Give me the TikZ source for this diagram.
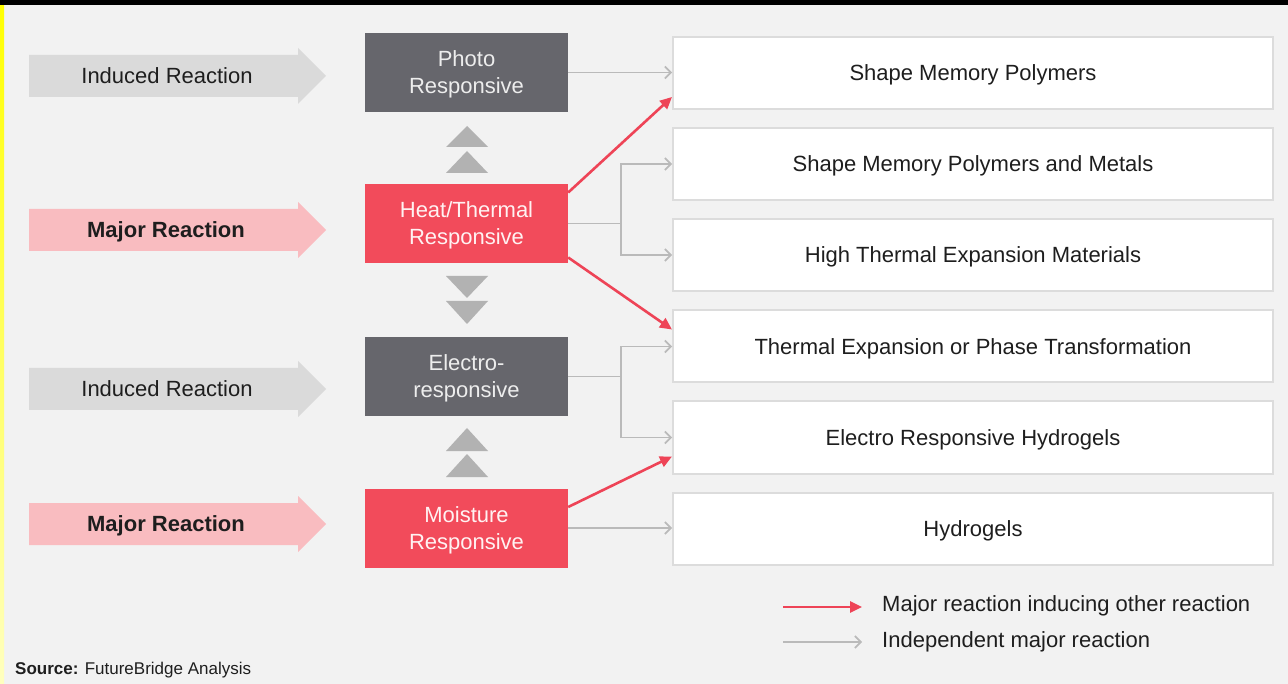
\documentclass[tikz,border=0pt]{standalone}
\usepackage{fontspec}
\setmainfont{Liberation Sans}
\usetikzlibrary{arrows.meta,calc}
\definecolor{bg}{HTML}{F2F2F2}
\definecolor{darkbox}{HTML}{66666C}
\definecolor{redbox}{HTML}{F24B5B}
\definecolor{pinkarrow}{HTML}{F9BCC0}
\definecolor{grayarrow}{HTML}{DADADA}
\definecolor{tri}{HTML}{B2B2B2}
\definecolor{conn}{HTML}{BABABA}
\definecolor{redline}{HTML}{EE4457}
\definecolor{boxline}{HTML}{DCDCDC}
\definecolor{txt}{HTML}{1E1E1E}
\begin{document}
\begin{tikzpicture}[x=1pt,y=-1pt,
  midbox/.style={minimum width=203pt,minimum height=79pt,inner sep=0pt,align=center,text depth=0pt,font=\fontsize{22}{27}\selectfont},
  darkmid/.style={midbox,fill=darkbox,text=white!93!black},
  redmid/.style={midbox,fill=redbox,text=white!95!red},
  rbox/.style={draw=boxline,line width=2pt,fill=white,minimum width=600pt,minimum height=72pt,inner sep=0pt,text depth=0pt,text=txt,font=\fontsize{22}{27}\selectfont},
  lefttext/.style={inner sep=0pt,text depth=0pt,text=txt,font=\fontsize{22}{27}\selectfont},
  legtext/.style={inner sep=0pt,text depth=0pt,anchor=west,text=txt,font=\fontsize{22}{27}\selectfont},
  grayconn/.style={draw=conn,line width=1.6pt,-{Straight Barb[length=6pt,width=12pt]}},
  grayline/.style={draw=conn,line width=1.6pt},
  redconn/.style={draw=redline,line width=2.6pt,-{Triangle[length=12pt,width=11pt]}}
]
\useasboundingbox (0,0) rectangle (1288,684);
\fill[bg] (0,0) rectangle (1288,684);
\shade[top color=yellow, bottom color=yellow!25!white] (0,0) rectangle (4,684);
\fill[black] (0,0) rectangle (1288,5);

% left arrows
\foreach \yy/\col in {76/grayarrow,230/pinkarrow,389/grayarrow,524/pinkarrow}
  \fill[\col] (29,\yy-21) -- (298,\yy-21) -- (298,\yy-28) -- (326,\yy) -- (298,\yy+28) -- (298,\yy+21) -- (29,\yy+21) -- cycle;
\node[lefttext] (ir1) at (167,76) {Induced Reaction};
\node[lefttext,font=\fontsize{22}{27}\selectfont\bfseries] (mr1) at (166,230) {Major Reaction};
\node[lefttext] (ir2) at (167,389) {Induced Reaction};
\node[lefttext,font=\fontsize{22}{27}\selectfont\bfseries] (mr2) at (166,524) {Major Reaction};

% middle boxes
\node[darkmid] (photo) at (466.5,72.5) {Photo\\Responsive};
\node[redmid] (heat) at (466.5,223.5) {Heat/Thermal\\Responsive};
\node[darkmid] (electro) at (466.5,376.5) {Electro-\\responsive};
\node[redmid] (moist) at (466.5,528) {Moisture\\Responsive};

% triangles
\fill[tri] (446,147) -- (488,147) -- (467,126) -- cycle;
\fill[tri] (446,173) -- (488,173) -- (467,151) -- cycle;
\fill[tri] (446,276) -- (488,276) -- (467,298) -- cycle;
\fill[tri] (446,301) -- (488,301) -- (467,324) -- cycle;
\fill[tri] (446,451) -- (488,451) -- (467,428) -- cycle;
\fill[tri] (446,477) -- (488,477) -- (467,454) -- cycle;

% right boxes
\node[rbox] (b1) at (973,73) {Shape Memory Polymers};
\node[rbox] (b2) at (973,164) {Shape Memory Polymers and Metals};
\node[rbox] (b3) at (973,255) {High Thermal Expansion Materials};
\node[rbox] (b4) at (973,346.5) {Thermal Expansion or Phase Transformation};
\node[rbox] (b5) at (973,437.5) {Electro Responsive Hydrogels};
\node[rbox] (b6) at (973,528.5) {Hydrogels};

% gray connectors
\draw[grayconn] (photo.east) -- (photo.east -| b1.west);
\draw[grayline] (heat.east) -- ++(53,0) coordinate (hj);
\draw[grayconn] (hj) |- (b2.west);
\draw[grayconn] (hj) |- (b3.west);
\draw[grayline] (electro.east) -- ++(53,0) coordinate (ej);
\draw[grayconn] (ej) |- (b4.west);
\draw[grayconn] (ej) |- (b5.west);
\draw[grayconn] (moist.east) -- (moist.east -| b6.west);

% red connectors
\draw[redconn] ([yshift=31pt]heat.east) -- ([yshift=-24pt]b1.west);
\draw[redconn] ([yshift=-34pt]heat.east) -- ([yshift=17pt]b4.west);
\draw[redconn] ([yshift=21pt]moist.east) -- ([yshift=-19pt]b5.west);

% legend
\coordinate (lr0) at (783,607);
\coordinate (lr1) at (862,607);
\coordinate (lg0) at (783,642);
\coordinate (lg1) at (862,642);
\draw[redconn] (lr0) -- (lr1);
\draw[grayconn] (lg0) -- (lg1);
\node[legtext] (lt1) at (882,604) {Major reaction inducing other reaction};
\node[legtext] (lt2) at (882,639.5) {Independent major reaction};

% source
\node[inner sep=0pt,anchor=west,text depth=0pt,text=txt,font=\fontsize{17}{20}\selectfont] (src) at (15,668) {\textbf{Source:} FutureBridge Analysis};
\end{tikzpicture}
\end{document}
